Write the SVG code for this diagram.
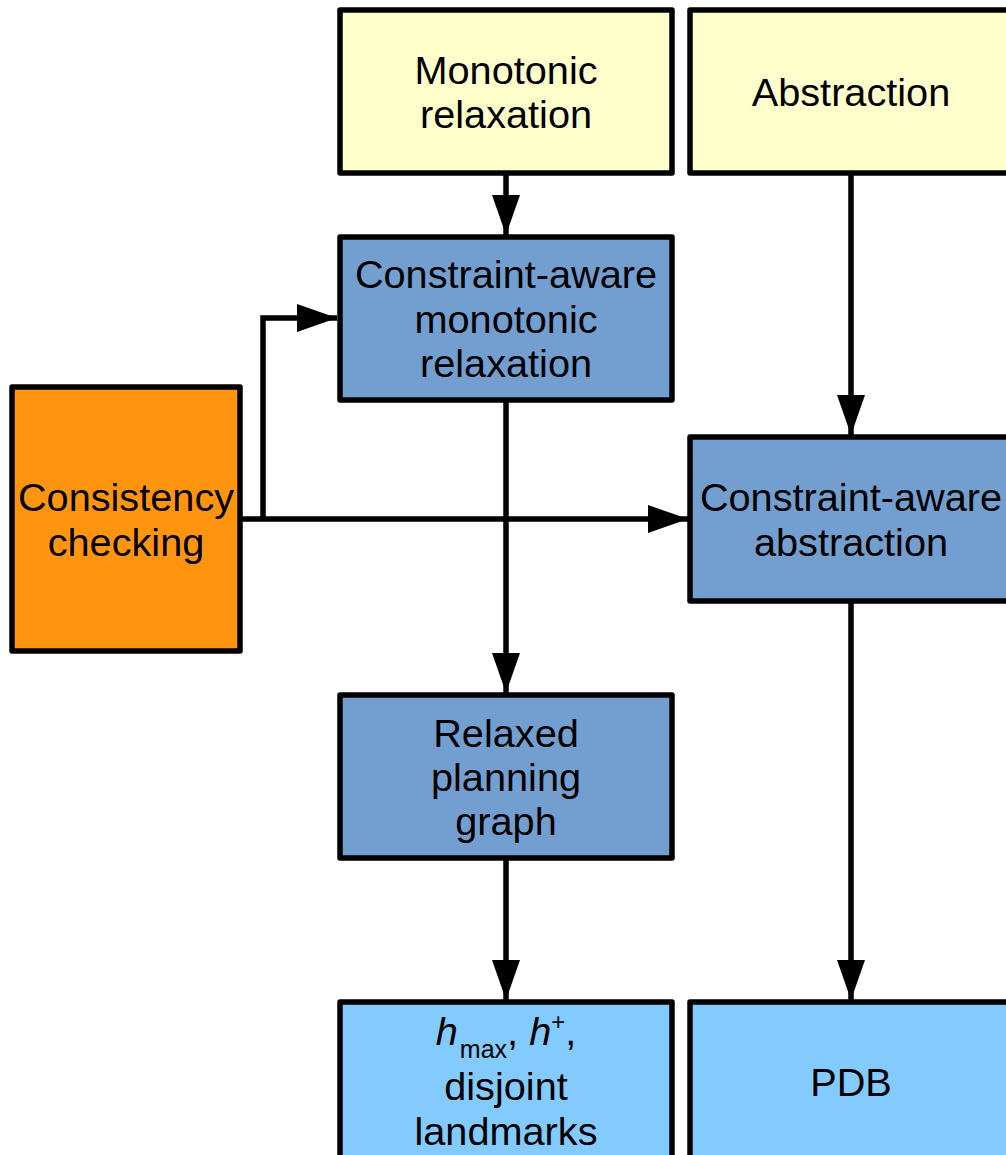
<svg xmlns="http://www.w3.org/2000/svg" width="1006" height="1155" viewBox="0 0 1006 1155">
<style>
.box{stroke:#000;stroke-width:5.5;stroke-linejoin:round}
.y{fill:#ffffcc}.b{fill:#729fcf}.lb{fill:#83caff}.o{fill:#ff950e}
text{font-family:"Liberation Sans",Arial,sans-serif;font-size:39.7px;fill:#000;text-anchor:middle}
.c{fill:none;stroke:#000;stroke-width:5.5}
</style>
<defs>
<marker id="ah" markerUnits="userSpaceOnUse" markerWidth="40" markerHeight="28" refX="40" refY="14" orient="auto">
<path d="M0,0 L40,14 L0,28 z" fill="#000"/>
</marker>
</defs>
<rect width="1006" height="1155" fill="#fff"/>
<g id="connectors">
<path class="c" d="M506,174 V235" marker-end="url(#ah)"/>
<path class="c" d="M851,174 V435" marker-end="url(#ah)"/>
<path class="c" d="M506,400 V693" marker-end="url(#ah)"/>
<path class="c" d="M506,858 V1000" marker-end="url(#ah)"/>
<path class="c" d="M851,601 V1000" marker-end="url(#ah)"/>
<path class="c" d="M240,519 H688" marker-end="url(#ah)"/>
<path class="c" d="M263,519 V318 H337" marker-end="url(#ah)"/>
</g>
<g id="monotonic-relaxation">
<rect class="box y" x="340" y="10" width="332" height="163"/>
<text x="506" y="84">Monotonic</text>
<text x="506" y="128">relaxation</text>
</g>
<g id="abstraction">
<rect class="box y" x="690" y="10" width="332" height="163"/>
<text x="851" y="106">Abstraction</text>
</g>
<g id="ca-monotonic-relaxation">
<rect class="box b" x="340" y="237" width="332" height="163"/>
<text x="506" y="288">Constraint-aware</text>
<text x="506" y="333">monotonic</text>
<text x="506" y="377">relaxation</text>
</g>
<g id="consistency-checking">
<rect class="box o" x="12" y="387" width="228" height="264"/>
<text x="126" y="511">Consistency</text>
<text x="126" y="556">checking</text>
</g>
<g id="ca-abstraction">
<rect class="box b" x="690" y="437" width="332" height="164"/>
<text x="851" y="511">Constraint-aware</text>
<text x="851" y="556">abstraction</text>
</g>
<g id="relaxed-planning-graph">
<rect class="box b" x="340" y="695" width="332" height="163"/>
<text x="506" y="747">Relaxed</text>
<text x="506" y="791">planning</text>
<text x="506" y="835">graph</text>
</g>
<g id="heuristics">
<rect class="box lb" x="340" y="1002" width="332" height="200"/>
<text x="506" y="1045"><tspan font-style="italic">h</tspan><tspan font-size="25" dx="2" dy="13">max</tspan><tspan dy="-13">, </tspan><tspan font-style="italic">h</tspan><tspan font-size="24" dy="-15">+</tspan><tspan dy="15">,</tspan></text>
<text x="506" y="1100">disjoint</text>
<text x="506" y="1145">landmarks</text>
</g>
<g id="pdb">
<rect class="box lb" x="690" y="1002" width="332" height="200"/>
<text x="851" y="1096">PDB</text>
</g>
</svg>
